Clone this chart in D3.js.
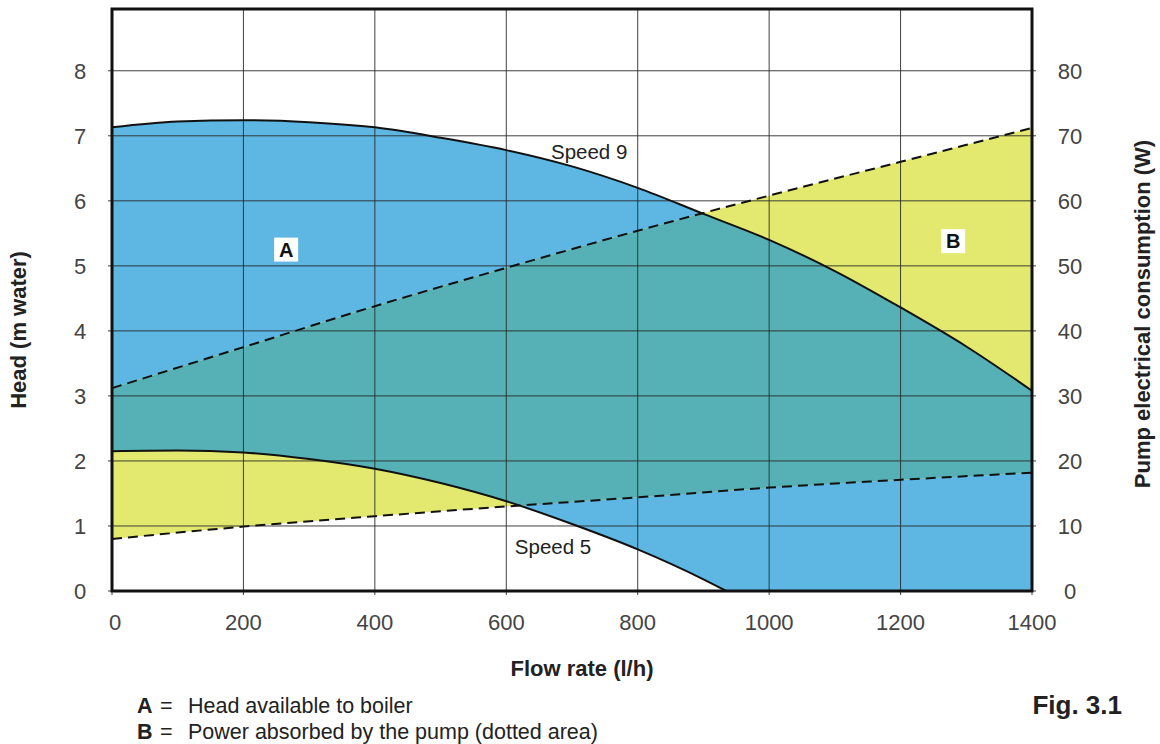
<!DOCTYPE html>
<html>
<head>
<meta charset="utf-8">
<script src="https://cdn.jsdelivr.net/npm/d3@7"></script>
<style>
  body { margin: 0; background: #fff; }
  text { font-family: "Liberation Sans", Arial, sans-serif; }
</style>
</head>
<body>
<div id="chart"></div>
<script>
// Flow rate (l/h) and head (m water)
const speed9Flow = [0, 100, 200, 300, 400, 500, 600, 700, 800, 900, 1000, 1100, 1200, 1300, 1400];
const speed9Head = [7.13, 7.22, 7.24, 7.21, 7.13, 6.97, 6.78, 6.53, 6.2, 5.8, 5.4, 4.92, 4.36, 3.76, 3.08];
const speed5Flow = [0, 100, 200, 300, 400, 500, 600, 700, 800, 900, 935];
const speed5Head = [2.15, 2.16, 2.13, 2.03, 1.88, 1.66, 1.38, 1.03, 0.64, 0.18, 0];

// Absorbed power (W), dashed lines
const powerFlow = [0, 200, 400, 600, 800, 1000, 1200, 1400];
const powerHigh = [31.2, 37.5, 43.8, 49.7, 55.4, 60.8, 66.0, 71.2];
const powerLow = [8.0, 9.9, 11.5, 13.0, 14.4, 15.9, 17.1, 18.2];

const flowTicks = [0, 200, 400, 600, 800, 1000, 1200, 1400];
const headTicks = [0, 1, 2, 3, 4, 5, 6, 7, 8];
const powerTicks = [0, 10, 20, 30, 40, 50, 60, 70, 80];

const W = 1160, H = 744;
const margin = { top: 9, right: 128, bottom: 153, left: 112 };
const width = W - margin.left - margin.right;
const height = H - margin.top - margin.bottom;

const svg = d3.select("#chart").append("svg")
    .attr("width", W)
    .attr("height", H);

const g = svg.append("g")
    .attr("transform", `translate(${margin.left},${margin.top})`);

const x = d3.scaleLinear().domain([0, 1400]).range([0, width]);
const y = d3.scaleLinear().domain([0, 8.95]).range([height, 0]);
const yW = d3.scaleLinear().domain([0, 89.5]).range([height, 0]);

const s9 = speed9Flow.map((f, i) => ({ f, v: speed9Head[i] }));
const s5 = speed5Flow.map((f, i) => ({ f, v: speed5Head[i] }));
const pHi = powerFlow.map((f, i) => ({ f, v: powerHigh[i] }));
const pLo = powerFlow.map((f, i) => ({ f, v: powerLow[i] }));

const headArea = d3.area()
    .x(d => x(d.f)).y0(y(0)).y1(d => y(d.v))
    .curve(d3.curveMonotoneX);
const headLine = d3.line()
    .x(d => x(d.f)).y(d => y(d.v))
    .curve(d3.curveMonotoneX);
const powerLine = d3.line()
    .x(d => x(d.f)).y(d => yW(d.v))
    .curve(d3.curveMonotoneX);

// A: region between speed 9 and speed 5 (evenodd difference)
const aPath = headArea(s9) + headArea(s5);
// B: region between the power lines
const bPath = d3.area()
    .x(d => x(d.f))
    .y0((d, i) => yW(powerLow[i]))
    .y1(d => yW(d.v))
    .curve(d3.curveMonotoneX)(pHi);

g.append("clipPath").attr("id", "clipA")
  .append("path").attr("d", aPath).attr("clip-rule", "evenodd");

g.append("path").attr("d", aPath).attr("fill", "#5db7e2").attr("fill-rule", "evenodd");
g.append("path").attr("d", bPath).attr("fill", "#e3e96e");
g.append("path").attr("d", bPath).attr("fill", "#56b1b6").attr("clip-path", "url(#clipA)");

// grid
g.append("g").selectAll("line").data(flowTicks).enter().append("line")
    .attr("x1", d => x(d)).attr("x2", d => x(d))
    .attr("y1", 0).attr("y2", height + 4)
    .attr("stroke", "#2a2a2a").attr("stroke-width", 0.9);
g.append("g").selectAll("line").data(headTicks).enter().append("line")
    .attr("x1", -4).attr("x2", width + 4)
    .attr("y1", d => y(d)).attr("y2", d => y(d))
    .attr("stroke", "#2a2a2a").attr("stroke-width", 0.9);

// curves
g.append("path").datum(s9).attr("d", headLine)
    .attr("fill", "none").attr("stroke", "#111").attr("stroke-width", 2);
g.append("path").datum(s5).attr("d", headLine)
    .attr("fill", "none").attr("stroke", "#111").attr("stroke-width", 2);
[pHi, pLo].forEach(p => {
    g.append("path").datum(p).attr("d", powerLine)
        .attr("fill", "none").attr("stroke", "#111").attr("stroke-width", 2)
        .attr("stroke-dasharray", "10,6");
});

// frame
g.append("rect").attr("width", width).attr("height", height)
    .attr("fill", "none").attr("stroke", "#111").attr("stroke-width", 3);

// tick labels
g.append("g").selectAll("text").data(headTicks).enter().append("text")
    .attr("x", -32).attr("y", d => y(d)).attr("dy", "0.36em")
    .attr("text-anchor", "middle").attr("fill", "#444").style("font-size", "22px")
    .text(d => d);
g.append("g").selectAll("text").data(powerTicks).enter().append("text")
    .attr("x", width + 38).attr("y", d => yW(d)).attr("dy", "0.36em")
    .attr("text-anchor", "middle").attr("fill", "#444").style("font-size", "22px")
    .text(d => d);
g.append("g").selectAll("text").data(flowTicks).enter().append("text")
    .attr("x", d => x(d) + (d === 0 ? 3 : 0)).attr("y", height + 31).attr("dy", "0.36em")
    .attr("text-anchor", "middle").attr("fill", "#444").style("font-size", "22px")
    .text(d => d);

// axis titles
svg.append("text")
    .attr("transform", "translate(26,330) rotate(-90)")
    .attr("text-anchor", "middle").style("font-size", "22px").style("font-weight", "bold")
    .attr("fill", "#222").text("Head (m water)");
svg.append("text")
    .attr("transform", "translate(1150,314) rotate(-90)")
    .attr("text-anchor", "middle").style("font-size", "22px").style("font-weight", "bold")
    .attr("fill", "#222").text("Pump electrical consumption (W)");
svg.append("text")
    .attr("x", 582).attr("y", 668).attr("dy", "0.36em")
    .attr("text-anchor", "middle").style("font-size", "22px").style("font-weight", "bold")
    .attr("fill", "#222").text("Flow rate (l/h)");

// curve labels
g.append("text").attr("x", x(668)).attr("y", y(6.75)).attr("dy", "0.36em")
    .style("font-size", "20.5px").attr("fill", "#222").text("Speed 9");
g.append("text").attr("x", x(613)).attr("y", y(0.68)).attr("dy", "0.36em")
    .style("font-size", "20.5px").attr("fill", "#222").text("Speed 5");

// area markers
[{ k: "A", f: 265, v: 5.25 }, { k: "B", f: 1280, v: 5.38 }].forEach(m => {
    g.append("rect")
        .attr("x", x(m.f) - 12).attr("y", y(m.v) - 12)
        .attr("width", 24).attr("height", 24).attr("fill", "#fff");
    g.append("text").attr("x", x(m.f)).attr("y", y(m.v)).attr("dy", "0.36em")
        .attr("text-anchor", "middle").style("font-size", "20px").style("font-weight", "bold")
        .attr("fill", "#111").text(m.k);
});

// legend
const legend = [
    { k: "A", t: "Head available to boiler" },
    { k: "B", t: "Power absorbed by the pump (dotted area)" }
];
legend.forEach((d, i) => {
    const t = svg.append("text").attr("x", 137).attr("y", 705 + i * 26).attr("dy", "0.36em")
        .style("font-size", "21.5px").attr("fill", "#222");
    t.append("tspan").style("font-weight", "bold").text(d.k);
    t.append("tspan").attr("x", 160).text("=");
    t.append("tspan").attr("x", 188).text(d.t);
});
svg.append("text").attr("x", 1122).attr("y", 705).attr("dy", "0.36em")
    .attr("text-anchor", "end").style("font-size", "26px").style("font-weight", "bold")
    .attr("fill", "#222").text("Fig. 3.1");
</script>
</body>
</html>
